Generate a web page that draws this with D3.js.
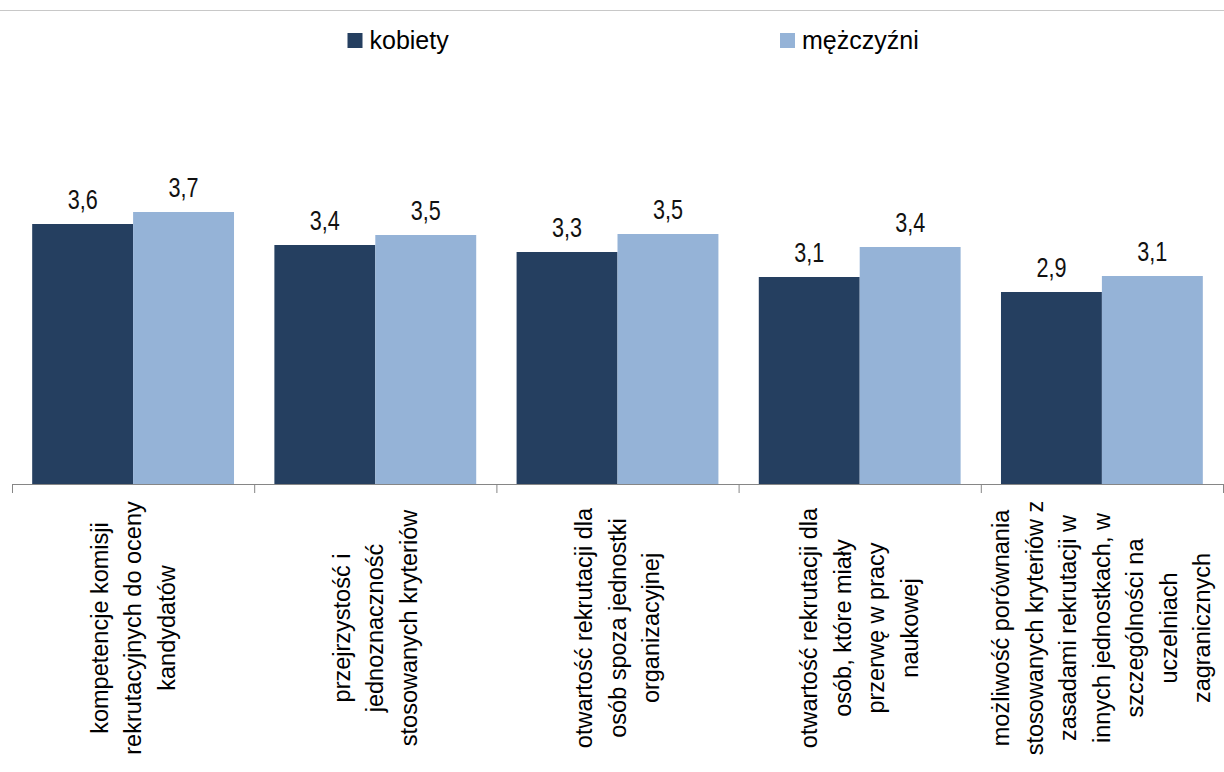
<!DOCTYPE html>
<html lang="pl">
<head>
<meta charset="UTF-8">
<title>kobiety / mężczyźni</title>
<script src="https://cdn.jsdelivr.net/npm/d3@7/dist/d3.min.js"></script>
<style>
    body { margin: 0; background: #fff; overflow: hidden; }
    svg { display: block; font-family: "Liberation Sans", Arial, sans-serif; }
    .axis path, .axis line { stroke: #868686; }
    .val { font-size: 27px; fill: #111; }
    .cat { font-size: 23.5px; fill: #000; }
    .leg { font-size: 25px; fill: #000; }
</style>
</head>
<body>
<div id="chart"></div>
<script>
    // categories (one array of lines per label, as wrapped in the original)
    const categories = [
        ["kompetencje komisji", "rekrutacyjnych do oceny", "kandydatów"],
        ["przejrzystość i", "jednoznaczność", "stosowanych kryteriów"],
        ["otwartość rekrutacji dla", "osób spoza jednostki", "organizacyjnej"],
        ["otwartość rekrutacji dla", "osób, które miały", "przerwę w pracy", "naukowej"],
        ["możliwość porównania", "stosowanych kryteriów z", "zasadami rekrutacji w", "innych jednostkach, w", "szczególności na", "uczelniach", "zagranicznych"]
    ];
    const seriesNames = ["kobiety", "mężczyźni"];
    const kobiety = [3.60, 3.39, 3.32, 3.07, 2.92];
    const mezczyzni = [3.72, 3.49, 3.50, 3.37, 3.08];
    const colors = ["#253f60", "#95b3d7"];

    const W = 1224, H = 772;
    const svg = d3.select("#chart").append("svg")
        .attr("width", W)
        .attr("height", H);

    // thin line left over from the page above the chart
    svg.append("line")
        .attr("x1", 0).attr("x2", W)
        .attr("y1", 10.5).attr("y2", 10.5)
        .attr("stroke", "#c8c8c8");

    const idx = d3.range(categories.length);
    const x = d3.scaleBand().domain(idx).range([12, 1223]);
    const xs = d3.scaleBand().domain([0, 1]).range([0, x.bandwidth()]).paddingOuter(0.2).paddingInner(0);
    const y = d3.scaleLinear().domain([1, 5]).range([484, 84]);

    const rows = idx.map(i => [kobiety[i], mezczyzni[i]]);
    const fmt = v => d3.format(".1f")(v).replace(".", ",");

    const groups = svg.append("g").selectAll("g")
        .data(rows)
        .join("g")
        .attr("transform", (d, i) => `translate(${x(i)},0)`);

    groups.selectAll("rect")
        .data(d => d.map((v, s) => ({ v, s })))
        .join("rect")
        .attr("x", d => xs(d.s))
        .attr("width", xs.bandwidth())
        .attr("y", d => y(d.v))
        .attr("height", d => y(1) - y(d.v))
        .attr("fill", d => colors[d.s]);

    // value labels, squeezed sideways like the narrow font of the original
    groups.selectAll("text")
        .data(d => d.map((v, s) => ({ v, s })))
        .join("text")
        .attr("class", "val")
        .attr("text-anchor", "middle")
        .attr("transform", d => `translate(${xs(d.s) + xs.bandwidth() / 2},${y(d.v) - 15}) scale(0.8,1)`)
        .text(d => fmt(d.v));

    // x axis: ticks on band boundaries
    const ax = svg.append("g").attr("class", "axis");
    ax.append("line")
        .attr("x1", x.range()[0]).attr("x2", x.range()[1])
        .attr("y1", y(1) + 0.5).attr("y2", y(1) + 0.5);
    ax.selectAll("line.tick")
        .data(idx.concat([categories.length]))
        .join("line")
        .attr("class", "tick")
        .attr("x1", i => (i < categories.length ? x(i) : x.range()[1]) + 0.5)
        .attr("x2", i => (i < categories.length ? x(i) : x.range()[1]) + 0.5)
        .attr("y1", y(1)).attr("y2", y(1) + 9);

    // rotated category labels
    const lineH = 33.5;
    const labels = svg.append("g").selectAll("text")
        .data(categories)
        .join("text")
        .attr("class", "cat")
        .attr("text-anchor", "middle")
        .attr("transform", (d, i) => `translate(${x(i) + x.bandwidth() / 2},628) rotate(-90)`);
    labels.selectAll("tspan")
        .data(d => d.map((t, j) => ({ t, j, n: d.length })))
        .join("tspan")
        .attr("x", 0)
        .attr("y", d => (d.j - (d.n - 1) / 2) * lineH)
        .attr("dominant-baseline", "central")
        .text(d => d.t);

    // legend
    const legX = [347.5, 780];
    const leg = svg.append("g").selectAll("g")
        .data(seriesNames)
        .join("g")
        .attr("transform", (d, i) => `translate(${legX[i]},33)`);
    leg.append("rect")
        .attr("width", 15).attr("height", 15)
        .attr("fill", (d, i) => colors[i]);
    leg.append("text")
        .attr("class", "leg")
        .attr("x", 22).attr("y", 16)
        .attr("transform", "scale(1,1)")
        .text(d => d);
</script>
</body>
</html>
